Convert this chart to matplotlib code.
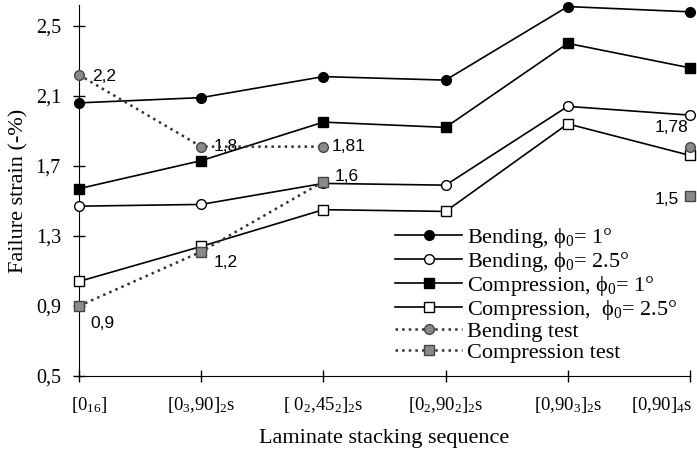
import matplotlib
matplotlib.use("Agg")
import matplotlib.pyplot as plt
from matplotlib.transforms import ScaledTranslation

plt.rcParams['font.family'] = ['Liberation Serif', 'DejaVu Serif']
plt.rcParams['mathtext.fontset'] = 'custom'
plt.rcParams['mathtext.rm'] = 'Liberation Serif'
plt.rcParams['mathtext.it'] = 'Liberation Serif:italic'

categories = [r"[0$_{16}$]", r"[0$_{3}$,90]$_{2}$s", r"[ 0$_{2}$,45$_{2}$]$_{2}$s",
              r"[0$_{2}$,90$_{2}$]$_{2}$s", r"[0,90$_{3}$]$_{2}$s", r"[0,90]$_{4}$s"]
x = list(range(len(categories)))

bend_1 = [2.06, 2.09, 2.21, 2.19, 2.61, 2.58]
bend_25 = [1.47, 1.48, 1.60, 1.59, 2.04, 1.99]
comp_1 = [1.57, 1.73, 1.95, 1.92, 2.40, 2.26]
comp_25 = [1.04, 1.24, 1.45, 1.44, 1.94, 1.76]

# test results: first three joined by a dotted line, last one alone
bend_test_x = [0, 1, 2]
bend_test = [2.22, 1.81, 1.81]
bend_test_last = 1.81
comp_test_x = [0, 1, 2]
comp_test = [0.90, 1.21, 1.61]
comp_test_last = 1.53

notes = ["2,2", "1,8", "1,81", "1,6", "1,2", "0,9", "1,78", "1,5"]
note_x = [0.11, 1.10, 2.07, 2.09, 1.10, 0.09, 4.71, 4.71]
note_y = [2.21, 1.81, 1.81, 1.64, 1.15, 0.80, 1.92, 1.51]

fig = plt.figure(figsize=(6.97, 4.51), dpi=100)
ax = fig.add_axes([0.1133, 0.1663, 0.8766, 0.823])

ms = 7
ax.plot(x, bend_1, '-', color='black', lw=1.2, marker='o', ms=ms, mfc='black', mec='black',
        label="Bending, ϕ$_0$= 1°", clip_on=False, zorder=3)
ax.plot(x, bend_25, '-', color='black', lw=1.2, marker='o', ms=ms, mfc='white', mec='black',
        label="Bending, ϕ$_0$= 2.5°", clip_on=False, zorder=3)
ax.plot(x, comp_1, '-', color='black', lw=1.2, marker='s', ms=ms, mfc='black', mec='black',
        label="Compression, ϕ$_0$= 1°", clip_on=False, zorder=3)
ax.plot(x, comp_25, '-', color='black', lw=1.2, marker='s', ms=ms, mfc='white', mec='black',
        label="Compression,  ϕ$_0$= 2.5°", clip_on=False, zorder=3)
ax.plot(bend_test_x, bend_test, ':', color='#333333', lw=1.8, marker='o', ms=ms, mfc='#8a8a8a',
        mec='#444444', label="Bending test", clip_on=False, zorder=4)
ax.plot(comp_test_x, comp_test, ':', color='#333333', lw=1.8, marker='s', ms=ms, mfc='#8a8a8a',
        mec='#444444', label="Compression test", clip_on=False, zorder=4)
ax.plot([5], [bend_test_last], 'o', ms=ms, mfc='#8a8a8a', mec='#444444', clip_on=False, zorder=4)
ax.plot([5], [comp_test_last], 's', ms=ms, mfc='#8a8a8a', mec='#444444', clip_on=False, zorder=4)

for t, tx, ty in zip(notes, note_x, note_y):
    ax.text(tx, ty, t, family='Liberation Sans', fontsize=12.5, va='center', ha='left')

ax.set_xlim(0, 5)
ax.set_ylim(0.5, 2.62)
ax.set_yticks([0.5, 0.9, 1.3, 1.7, 2.1, 2.5])
ax.set_yticklabels(["0,5", "0,9", "1,3", "1,7", "2,1", "2,5"])
ax.set_xticks(x)
ax.set_xticklabels(categories)
ax.tick_params(direction='inout', length=8, width=1)
ax.tick_params(axis='y', labelsize=14.5, pad=9)
ax.tick_params(axis='x', labelsize=13.5, pad=10)
xl = ax.get_xticklabels()
xl[-1].set_ha('right')
xl[-1].set_transform(xl[-1].get_transform() + ScaledTranslation(0.02, 0, fig.dpi_scale_trans))
xl[0].set_transform(xl[0].get_transform() + ScaledTranslation(0.1, 0, fig.dpi_scale_trans))
ax.spines['top'].set_visible(False)
ax.spines['right'].set_visible(False)
ax.set_xlabel("Laminate stacking sequence", fontsize=16, labelpad=10)
ax.set_ylabel("Failure strain (-%)", fontsize=16, labelpad=5)

ax.legend(loc='lower right', bbox_to_anchor=(1.0, 0.0), frameon=False, fontsize=16,
          handlelength=3.0, labelspacing=0.0, handletextpad=0.2, borderaxespad=0.2)

fig.savefig("out.png", dpi=100)
